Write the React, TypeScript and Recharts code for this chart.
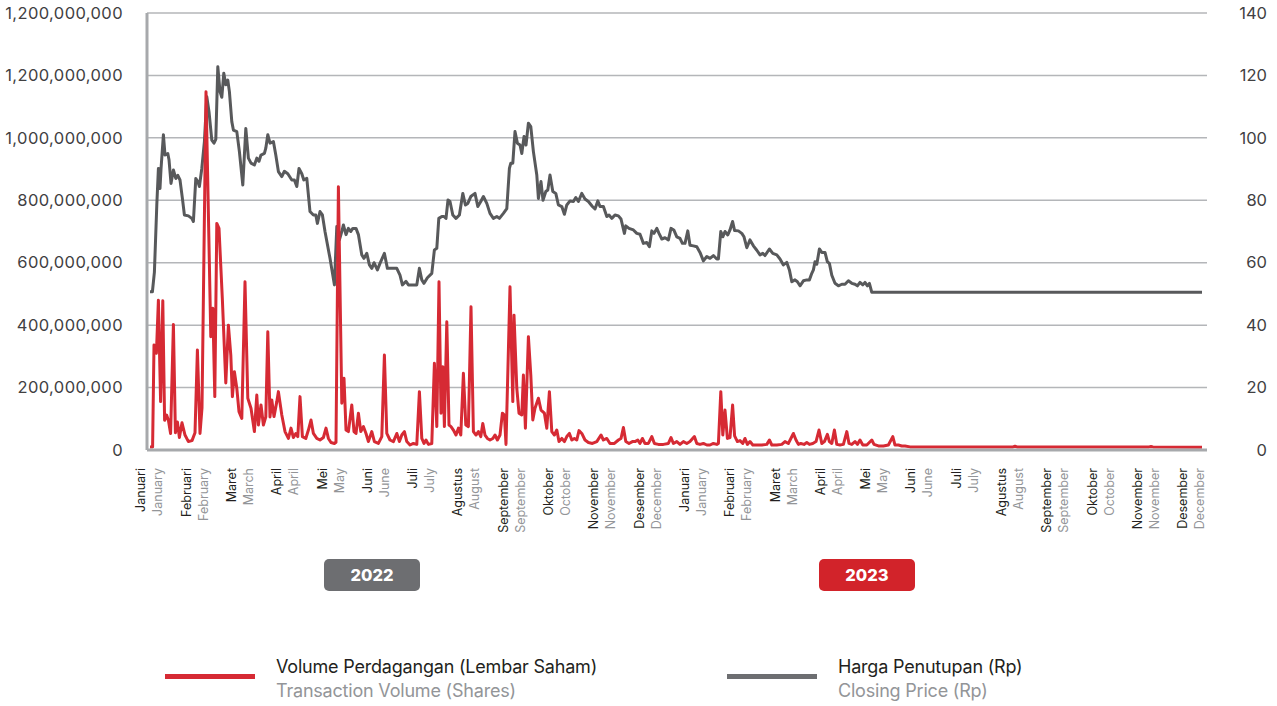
import React from 'react'
import { LineChart, Line, XAxis, YAxis, CartesianGrid } from 'recharts'

// x = trading-day index (about 22-23 per month), Jan 2022 .. Dec 2023
const monthTicks = [
    0, 22.65, 45.3, 67.95, 90.6, 113.25, 135.9, 158.55, 181.2, 203.85, 226.5, 249.15,
    271.8, 294.45, 317.1, 339.75, 362.4, 385.05, 407.7, 430.35, 453, 475.65, 498.3, 520.95,
]
const monthsId = ['Januari', 'Februari', 'Maret', 'April', 'Mei', 'Juni', 'Juli', 'Agustus', 'September', 'Oktober', 'November', 'Desember']
const monthsEn = ['January', 'February', 'March', 'April', 'May', 'June', 'July', 'August', 'September', 'October', 'November', 'December']

const volumeTicks = [0, 200, 400, 600, 800, 1000, 1200, 1400]
const volumeTickLabels = ['0', '200,000,000', '400,000,000', '600,000,000', '800,000,000', '1,000,000,000', '1,200,000,000', '1,200,000,000']
const priceTicks = [0, 20, 40, 60, 80, 100, 120, 140]

// [day, closing price Rp]
const closingPrice: [number, number][] = [
    [0.5, 50.7], [1.7, 50.7], [2.7, 57], [3.9, 78.5], [4.7, 90.2], [5.5, 83.8], [6, 90], [7.2, 101], [8, 94.5],
    [9.4, 95], [10, 93], [11, 85.4], [12.2, 89.7], [13.4, 87], [14.4, 88], [15.5, 86.5], [16.7, 80.6], [17.7, 75.3],
    [19.7, 75], [21.4, 74.2], [22.2, 73.2], [23.4, 87], [24.4, 86], [25.2, 84.4], [26.4, 90.2], [27.7, 98.8],
    [28.9, 113.2], [30, 108.4], [31.4, 99.3], [32.5, 98.3], [33.4, 99.5], [34.4, 122.8], [35.5, 114.8], [36.4, 113],
    [37.4, 120.7], [38.4, 117], [39.4, 118.5], [40.2, 114.8], [41.4, 105.2], [42.2, 102.5], [43.9, 102], [45.2, 95.6],
    [46.9, 84.9], [48.4, 103], [49.7, 93.5], [51, 91.9], [52.7, 91.3], [53.9, 93.5], [55, 92.5], [56, 94.5], [57.7, 95],
    [58.4, 96.7], [59.4, 101], [60.5, 98.3], [62.2, 98.8], [63.4, 94.5], [64.7, 89.2], [66.4, 87.6], [67.7, 89.3],
    [69.4, 88.5], [71.4, 86.5], [72.7, 86.5], [73.9, 84.4], [75, 90.2], [76.4, 88.5], [77.4, 86.5], [78.9, 87],
    [80.5, 76.4], [82.2, 75.3], [83.4, 75.3], [84.2, 72.6], [85.5, 76.4], [86.7, 75.3], [88, 70], [90.5, 61.4],
    [92.7, 52.9], [93.9, 71.6], [95.2, 67.3], [96.4, 70], [97.2, 72.1], [98.5, 69], [99.7, 71], [100.9, 70], [101.9, 71],
    [103.5, 71], [104.7, 69], [106.4, 62.5], [107.5, 61.4], [108.9, 63], [110.2, 59.3], [111.4, 58.2], [112.5, 60],
    [114.2, 57.7], [115.5, 59.8], [117.7, 63], [119.2, 58.2], [120.5, 58.2], [123.9, 58.2], [125.5, 56], [126.7, 52.9],
    [128.5, 54], [129.7, 52.9], [131.4, 52.9], [133.9, 52.9], [135.2, 58.2], [136.4, 54.5], [137.5, 53.4], [139.2, 55.2],
    [141.4, 56.6], [142.7, 64.1], [143.9, 64.6], [144.9, 74.2], [146.4, 74.8], [147.5, 74.8], [148.5, 74.2], [149.5, 80.1],
    [150.5, 79.6], [151.9, 75.3], [153.5, 74.2], [155.2, 75.3], [156.9, 82.2], [158.2, 78.5], [159.4, 79], [160.9, 81.2],
    [163, 82.2], [164.4, 78], [165.9, 79.6], [167.2, 81.2], [168.9, 79], [170.5, 75.8], [172.2, 74.2], [173.9, 74.8],
    [175.2, 74.2], [177.2, 75.8], [178.9, 77.3], [180.2, 90.2], [180.9, 91.9], [181.9, 91.9], [183, 102], [184.2, 98.3],
    [185.5, 97.7], [186.4, 95], [187.5, 100.4], [188.5, 97.7], [189.7, 104.7], [190.9, 103.6], [192.2, 95.6], [193.9, 88.1],
    [194.7, 80.6], [196, 86], [197, 80], [198.4, 82.8], [199.4, 83.3], [200.5, 88.1], [201.9, 82.8], [203.4, 82.2],
    [204.7, 78.5], [206.4, 78], [207.7, 75.5], [208.9, 78.5], [210.5, 79.8], [212.2, 79.6], [213.4, 80.9], [214.7, 79.6],
    [216.4, 82.2], [218, 80.4], [219.7, 79.6], [221.7, 78], [223, 77.2], [224.4, 79.8], [225.5, 78], [227.2, 78],
    [228.9, 74.8], [230, 75.3], [231.4, 74.2], [233, 75.3], [234.7, 75], [236, 74], [237.7, 69.4], [238.4, 71.8],
    [240, 71], [242.2, 70.5], [243.9, 69.4], [245.5, 69.1], [247.2, 66.2], [248.9, 66.5], [250.2, 65.1], [251.4, 70.2],
    [252.5, 69.4], [253.9, 71], [255, 69.4], [256.4, 67.6], [258, 68], [259.7, 67.3], [261, 71], [262.4, 70.5],
    [263.9, 68.3], [265.5, 67.8], [266.7, 66.2], [268, 66.2], [269.4, 70.2], [270.5, 65.6], [272.2, 65.4], [273.9, 65.1],
    [275.5, 63.3], [277.2, 60.6], [278.9, 62], [280.5, 61.4], [282.2, 62.3], [283.9, 61.2], [284.7, 61.2], [285.9, 70],
    [286.9, 68.3], [288, 70], [289.4, 68.9], [290.5, 70.5], [291.8, 73.2], [292.8, 70.3], [294.7, 70.2], [296.4, 69.4],
    [297.5, 68.3], [298.9, 64.8], [300.5, 67.3], [302.2, 65.4], [303.9, 64], [305.5, 62.5], [306.9, 63], [308, 62.3],
    [310.2, 64.4], [311.9, 63], [313.9, 62.5], [315.5, 61.2], [317.2, 59.3], [318.9, 60.1], [320.2, 57.7], [321.4, 53.9],
    [323, 54.5], [324.2, 53.9], [325.5, 52.6], [327.2, 54.2], [328.9, 54.5], [330.2, 54.5], [331.4, 56.6], [332.2, 57.7],
    [333, 60.3], [333.9, 59.5], [335.2, 64.4], [336.4, 63.3], [338, 63.3], [339.2, 60.3], [340.2, 59.8], [341.4, 56],
    [343, 53.4], [344.7, 52.6], [346.4, 53.1], [348, 53.1], [349.7, 54.2], [351.4, 53.4], [353, 53.1], [354.2, 52.6],
    [355.5, 53.7], [356.9, 52.9], [358, 53.7], [359.2, 52.6], [360.2, 53.4], [361.4, 50.5], [526.5, 50.5],
]

// [day, volume in millions of shares]
const tradingVolume: [number, number][] = [
    [0.5, 10], [1.8, 10], [2.5, 336], [3.7, 310], [4.7, 480], [5.8, 155], [6.9, 478], [7.8, 95], [8.8, 112], [9.7, 95],
    [10.8, 53], [12.2, 402], [13.2, 55], [14.2, 90], [15.2, 40], [16.5, 87], [18, 48], [19.7, 27], [21.5, 30], [23, 55],
    [24.2, 320], [25.5, 53], [26.5, 135], [28.5, 1148], [30.9, 363], [31.9, 454], [32.9, 171], [33.9, 726], [35, 710],
    [36.7, 480], [38.4, 215], [39.7, 400], [40.9, 304], [41.7, 171], [42.7, 251], [43.9, 198], [45, 123], [46.4, 101],
    [48, 539], [49.4, 166], [51, 134], [52.7, 59], [53.9, 176], [54.7, 80], [56, 144], [57.2, 80], [58.4, 106],
    [59.4, 379], [60.5, 106], [61.4, 160], [62.5, 107], [63.9, 155], [64.7, 187], [66.4, 112], [68, 59], [69.7, 37],
    [71, 70], [72.2, 40], [73.4, 53], [74.4, 43], [75.5, 171], [76.7, 43], [78.4, 37], [79.7, 64], [81, 96], [82.2, 53],
    [83.9, 37], [85.5, 32], [87.2, 40], [88.5, 70], [89.7, 37], [91, 24], [92.7, 21], [93.5, 25], [94.7, 843],
    [96.4, 150], [97.5, 230], [98.5, 64], [99.7, 59], [101.4, 144], [102.5, 59], [103.5, 53], [104.7, 118], [105.9, 59],
    [107.2, 75], [108.5, 53], [109.7, 27], [111.4, 59], [112.7, 27], [114.7, 21], [116.4, 43], [117.7, 304], [118.9, 53],
    [120.5, 32], [122.2, 27], [123.9, 53], [125.2, 27], [126.4, 48], [127.7, 59], [128.9, 27], [130.5, 16], [132.2, 21],
    [133.9, 18], [135.2, 187], [136.4, 37], [137.5, 21], [138.5, 32], [139.7, 18], [141.4, 21], [142.7, 278], [143.9, 75],
    [145, 539], [146, 118], [146.9, 267], [147.7, 75], [148.9, 411], [150, 80], [151, 75], [152.2, 64], [153.5, 48],
    [154.7, 70], [155.9, 48], [157.2, 246], [158.4, 80], [159.7, 75], [161, 459], [162.2, 59], [163.5, 48], [164.7, 59],
    [165.9, 43], [166.9, 85], [168, 48], [169.2, 37], [170.5, 32], [171.9, 37], [173, 48], [174.2, 32], [175.5, 48],
    [176.7, 118], [177.7, 112], [178.5, 18], [180.5, 523], [181.9, 155], [182.5, 432], [183.9, 198], [185, 118],
    [186.4, 112], [187.2, 240], [188.2, 70], [189.7, 363], [190.9, 240], [191.9, 96], [193, 134], [194.7, 166], [196, 128],
    [197.7, 118], [198.9, 70], [200.2, 187], [201.4, 59], [202.7, 48], [203.9, 64], [205, 27], [206.4, 37], [207.7, 27],
    [208.9, 43], [210.2, 53], [211.4, 32], [212.7, 37], [213.9, 32], [215, 62], [216.4, 53], [218, 32], [219.7, 24],
    [221.7, 21], [223.9, 27], [226, 48], [227.2, 32], [228.9, 37], [230.5, 21], [232.7, 21], [234.7, 32], [236, 37],
    [237.2, 72], [238.4, 27], [240, 21], [241.7, 27], [243, 27], [244.4, 32], [245.5, 21], [246.7, 37], [248, 21],
    [249.7, 21], [251.4, 43], [252.7, 21], [254.7, 18], [257.2, 18], [259.7, 21], [261, 40], [262.2, 21], [263.9, 27],
    [265.5, 18], [267.2, 27], [268.9, 21], [270.5, 27], [272.7, 43], [273.9, 21], [275.5, 18], [277.2, 21], [278.9, 16],
    [280.5, 16], [282.2, 21], [283.9, 18], [284.7, 21], [285.9, 187], [286.9, 48], [288, 128], [289.2, 37], [290.5, 40],
    [291.8, 144], [292.8, 45], [294.2, 27], [295.5, 30], [296.9, 21], [298, 37], [299.2, 18], [300.5, 27], [301.9, 16],
    [303.9, 16], [306.4, 16], [308.9, 18], [310.2, 32], [311.4, 16], [313.9, 16], [316.4, 18], [318, 27], [319.7, 21],
    [322.2, 53], [323.5, 32], [324.7, 18], [325.9, 21], [327.5, 18], [328.9, 24], [330.2, 18], [331.9, 21], [333.5, 27],
    [335, 64], [336.4, 21], [337.7, 27], [339.2, 50], [340.2, 27], [341.4, 21], [342.7, 64], [343.9, 18], [345.5, 16],
    [347.2, 18], [348.9, 59], [350, 21], [351.4, 18], [353, 27], [354.2, 18], [355.5, 32], [356.9, 16], [358.9, 16],
    [361.4, 32], [362.5, 18], [364.7, 13], [367.2, 13], [369.7, 16], [371.9, 43], [373, 16], [374.7, 16], [376.4, 13],
    [378, 13], [380.5, 10], [432, 10], [433, 12], [434, 10], [500, 10], [501, 11], [502, 10], [526.5, 9],
]

const priceData = closingPrice.map(([d, p]) => ({ d, p }))
const volumeData = tradingVolume.map(([d, v]) => ({ d, v }))

const RED = '#d62a34'
const GREY = '#58595b'
const AXIS = '#a7a9ac'
const FONT = 'Inter, "Noto Sans", sans-serif'

function MonthTick({ x, y, payload }: any) {
    const i = monthTicks.findIndex((t) => Math.abs(t - payload.value) < 0.01)
    if (i < 0) return null
    const ty = y + 18
    return (
        <g>
            <text x={x - 8} y={ty} dy="0.35em" transform={`rotate(-90 ${x - 8} ${ty})`} textAnchor="end" fontSize={12.5} fill="#231f20" fontFamily={FONT}>
                {monthsId[i % 12]}
            </text>
            <text x={x + 9} y={ty} dy="0.35em" transform={`rotate(-90 ${x + 9} ${ty})`} textAnchor="end" fontSize={12.5} fill="#939598" fontFamily={FONT}>
                {monthsEn[i % 12]}
            </text>
        </g>
    )
}

function VolumeTick({ y, payload }: any) {
    const i = volumeTicks.indexOf(payload.value)
    return (
        <text x={123} y={y} dy="0.35em" textAnchor="end" fontSize={16.5} letterSpacing={0.4} fill="#414042" fontFamily={FONT}>
            {volumeTickLabels[i]}
        </text>
    )
}

function PriceTick({ x, y, payload }: any) {
    return (
        <text x={x + 60} y={y} dy="0.35em" textAnchor="end" fontSize={16.5} fill="#414042" fontFamily={FONT}>
            {payload.value}
        </text>
    )
}

const badge = (left: number, color: string): React.CSSProperties => ({
    position: 'absolute',
    left,
    top: 559,
    width: 96,
    height: 32,
    borderRadius: 5,
    background: color,
    color: '#fff',
    fontFamily: FONT,
    fontWeight: 800,
    fontSize: 16.5,
    display: 'flex',
    alignItems: 'center',
    justifyContent: 'center',
})

const legendLine = (left: number, color: string): React.CSSProperties => ({
    position: 'absolute',
    left,
    top: 674,
    width: 90,
    height: 5,
    background: color,
})

const legendText = (left: number, top: number, color: string): React.CSSProperties => ({
    position: 'absolute',
    left,
    top,
    fontFamily: FONT,
    fontSize: 18,
    lineHeight: '22px',
    color,
    whiteSpace: 'nowrap',
    letterSpacing: -0.2,
})

export default function App() {
    return (
        <div style={{ position: 'absolute', left: 0, top: 0, width: 1277, height: 706, background: '#fff' }}>
            <LineChart width={1277} height={706} margin={{ top: 13, right: 0, left: 0, bottom: 0 }}>
                <CartesianGrid vertical={false} stroke="#b4b6b9" strokeWidth={1.5} yAxisId="vol" />
                <XAxis
                    type="number"
                    dataKey="d"
                    domain={[-1, 529]}
                    ticks={monthTicks}
                    interval={0}
                    height={256}
                    axisLine={{ stroke: AXIS, strokeWidth: 3 }}
                    tickLine={false}
                    tickSize={0}
                    tickMargin={0}
                    tick={<MonthTick />}
                    allowDataOverflow
                />
                <YAxis
                    yAxisId="vol"
                    orientation="left"
                    width={147}
                    domain={[0, 1400]}
                    ticks={volumeTicks}
                    interval={0}
                    axisLine={{ stroke: AXIS, strokeWidth: 3 }}
                    tickLine={false}
                    tickSize={0}
                    tick={<VolumeTick />}
                />
                <YAxis
                    yAxisId="price"
                    orientation="right"
                    width={70}
                    domain={[0, 140]}
                    ticks={priceTicks}
                    interval={0}
                    axisLine={false}
                    tickLine={false}
                    tickSize={0}
                    tickMargin={0}
                    tick={<PriceTick />}
                />
                <Line
                    data={priceData}
                    dataKey="p"
                    yAxisId="price"
                    type="linear"
                    stroke={GREY}
                    strokeWidth={3}
                    dot={false}
                    strokeLinejoin="round"
                    isAnimationActive={false}
                />
                <Line
                    data={volumeData}
                    dataKey="v"
                    yAxisId="vol"
                    type="linear"
                    stroke={RED}
                    strokeWidth={3}
                    dot={false}
                    strokeLinejoin="round"
                    isAnimationActive={false}
                />
            </LineChart>

            <div style={badge(324, '#6d6e71')}>2022</div>
            <div style={badge(819, '#d2232a')}>2023</div>

            <div style={legendLine(165, RED)} />
            <div style={legendText(276, 656, '#231f20')}>Volume Perdagangan (Lembar Saham)</div>
            <div style={legendText(276, 680, '#939598')}>Transaction Volume (Shares)</div>

            <div style={legendLine(727, '#6d6e71')} />
            <div style={legendText(838, 656, '#231f20')}>Harga Penutupan (Rp)</div>
            <div style={legendText(838, 680, '#939598')}>Closing Price (Rp)</div>
        </div>
    )
}
